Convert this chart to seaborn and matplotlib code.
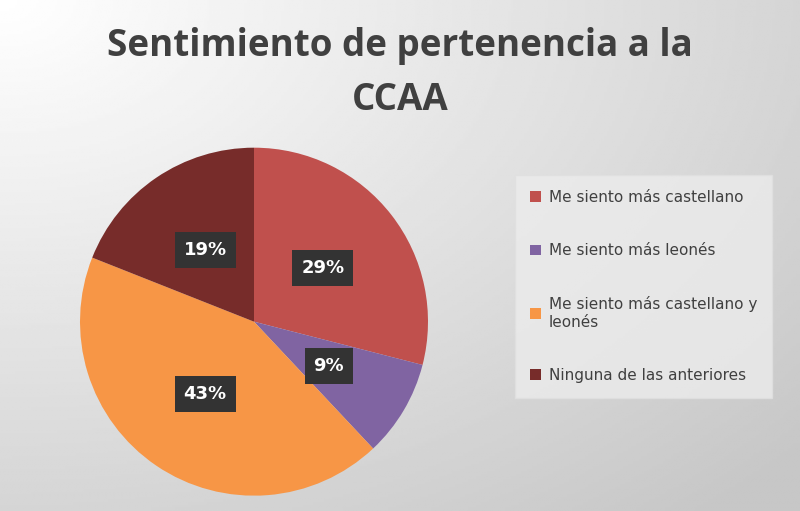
import numpy as np
import matplotlib
matplotlib.use("Agg")
import matplotlib.pyplot as plt
import seaborn as sns

categories = ["Me siento más castellano", "Me siento más leonés",
              "Me siento más castellano y\nleonés", "Ninguna de las anteriores"]
values = [29, 9, 43, 19]
colors = ["#C0504D", "#8064A2", "#F79646", "#772C2A"]

sns.set_theme(style="white")
fig = plt.figure(figsize=(8, 5.11), dpi=100)

bg = fig.add_axes([0, 0, 1, 1])
yy, xx = np.mgrid[0:1:200j, 0:1:300j]
g = 1 - 0.22 * np.clip(np.sqrt((xx * 0.9) ** 2 + (yy * 0.9) ** 2) / 1.2, 0, 1)
bg.imshow(g, cmap="gray", vmin=0, vmax=1, aspect="auto", extent=[0, 1, 0, 1])
bg.axis("off")

fig.text(0.5, 0.91, "Sentimiento de pertenencia a la", ha="center", va="center",
         fontsize=26.5, fontweight="bold", color="#404040", family="Open Sans")
fig.text(0.5, 0.805, "CCAA", ha="center", va="center",
         fontsize=26.5, fontweight="bold", color="#404040", family="Open Sans")

ax = fig.add_axes([0.1, 0.03, 0.435, 0.681])
wedges, texts, autotexts = ax.pie(values, colors=colors, startangle=90, counterclock=False,
                                  autopct="%d%%", pctdistance=0.5,
                                  wedgeprops=dict(linewidth=0))
for t in autotexts:
    t.set_color("white")
    t.set_fontsize(13)
    t.set_fontweight("bold")
    t.set_bbox(dict(boxstyle="square,pad=0.5", facecolor="#333333", edgecolor="none"))
ax.set_xlim(-1, 1)
ax.set_ylim(-1, 1)
ax.set_aspect("equal")

leg = fig.legend(wedges, categories, loc="upper left", bbox_to_anchor=(0.644, 0.658),
                 frameon=True, fontsize=11, labelspacing=2.5, handlelength=0.7,
                 handleheight=0.7, handletextpad=0.5, borderpad=1.0, borderaxespad=0,
                 fancybox=False)
leg.get_frame().set_facecolor("#ECECEC")
leg.get_frame().set_edgecolor("#E0E0E0")
for t in leg.get_texts():
    t.set_color("#404040")

fig.savefig("out.png", dpi=100)
